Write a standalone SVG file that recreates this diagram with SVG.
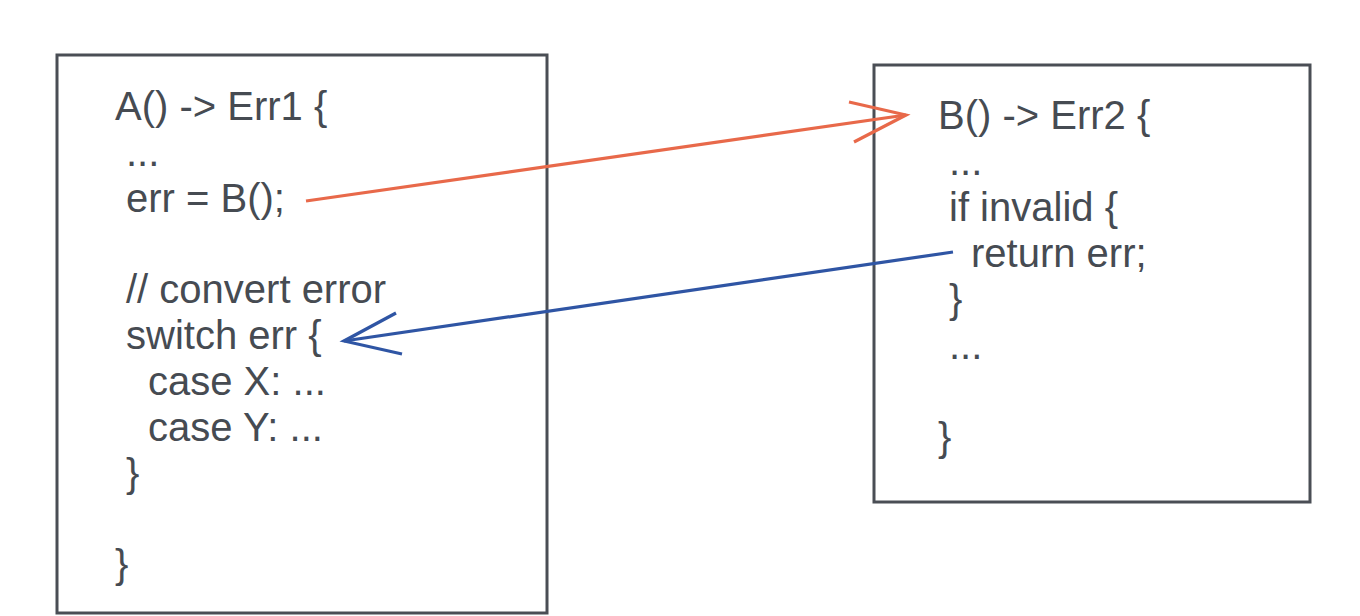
<svg xmlns="http://www.w3.org/2000/svg" width="1360" height="616" viewBox="0 0 1360 616">
<style>
.box{fill:none;stroke:#4a4e55;stroke-width:3}
.t{font-family:"Liberation Sans",Arial,sans-serif;font-size:40px;fill:#464b52}
.red{fill:none;stroke:#e8694a;stroke-width:3.2;stroke-linecap:butt}
.blue{fill:none;stroke:#2f55a4;stroke-width:3.2;stroke-linecap:butt}
</style>
<rect width="1360" height="616" fill="#ffffff"/>
<g id="nodeA">
<rect class="box" x="57" y="55" width="490" height="558"/>
<text class="t" x="115" y="120">A() -&gt; Err1 {</text>
<text class="t" x="126" y="166">...</text>
<text class="t" x="126" y="212">err = B();</text>
<text class="t" x="126" y="303">// convert error</text>
<text class="t" x="126" y="349">switch err {</text>
<text class="t" x="148" y="395">case X: ...</text>
<text class="t" x="148" y="441">case Y: ...</text>
<text class="t" x="126" y="487">}</text>
<text class="t" x="115" y="578">}</text>
</g>
<g id="nodeB">
<rect class="box" x="874" y="65" width="436" height="437"/>
<text class="t" x="938" y="129">B() -&gt; Err2 {</text>
<text class="t" x="949" y="175">...</text>
<text class="t" x="949" y="221">if invalid {</text>
<text class="t" x="971" y="267">return err;</text>
<text class="t" x="949" y="313">}</text>
<text class="t" x="949" y="359">...</text>
<text class="t" x="938" y="451">}</text>
</g>
<g id="connectors">
<path class="red" d="M306,201 L906,115"/>
<path class="red" d="M849,102 L906,115 L854,142"/>
<path class="blue" d="M953,252 L344,341"/>
<path class="blue" d="M396,313 L344,341 L402,354"/>
</g>
</svg>
